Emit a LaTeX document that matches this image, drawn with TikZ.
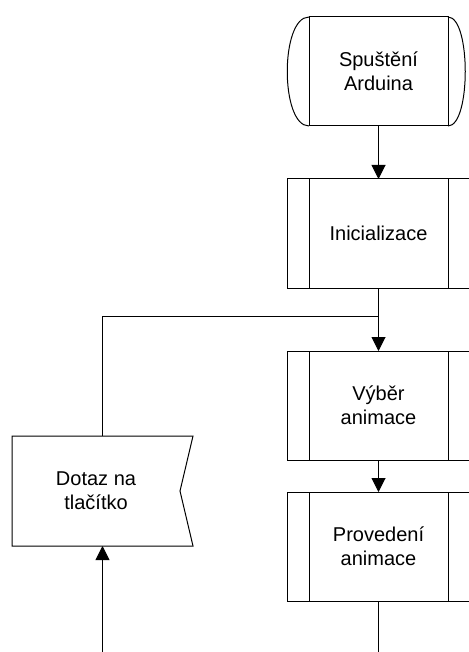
\documentclass[tikz,border=0pt]{standalone}
\usepackage{fontspec}
\setmainfont{Liberation Sans}
\usetikzlibrary{arrows.meta,
                calc,
                positioning}

\tikzset{
  txt/.style={align=center, font=\fontsize{20}{24}\selectfont},
  box/.style={txt, draw, line width=1pt, inner sep=0pt, outer sep=0pt,
              minimum width=139pt, minimum height=109pt},
  subproc/.style={box, minimum width=183pt,
    path picture={
      \draw[line width=1pt] ([xshift=22pt]path picture bounding box.north west) -- ([xshift=22pt]path picture bounding box.south west);
      \draw[line width=1pt] ([xshift=-22pt]path picture bounding box.north east) -- ([xshift=-22pt]path picture bounding box.south east);
    }},
  link/.style={line width=1pt},
  flow/.style={link, -{Triangle[length=14pt,width=14pt]}}
}

\begin{document}
\begin{tikzpicture}
\useasboundingbox (0,0) rectangle (468pt,-652pt);

\node[box] (start) at (378.5pt,-71.5pt) {Spuštění\\Arduina};
\node[subproc, below=53pt of start] (init) {Inicializace};
\node[subproc, below=63pt of init] (vyber) {Výběr\\animace};
\node[subproc, below=32pt of vyber] (proved) {Provedení\\animace};
\node[box, draw=none, minimum width=181pt, minimum height=110pt,
      label={[txt, xshift=-6.5pt]center:{Dotaz na\\tlačítko}}] (dotaz) at (102.5pt,-491pt) {};

\draw[link] (start.north west) .. controls ([xshift=-29pt]start.north west) and ([xshift=-29pt]start.south west) .. (start.south west);
\draw[link] (start.north east) .. controls ([xshift=23pt]start.north east) and ([xshift=23pt]start.south east) .. (start.south east);
\draw[link] (dotaz.north west) -- (dotaz.north east) -- ([xshift=-13pt]dotaz.east)
  -- (dotaz.south east) -- (dotaz.south west) -- cycle;

\coordinate (j) at ($(init.south)+(0,-28pt)$);
\coordinate (endL) at (dotaz.south |- 0,-652pt);
\coordinate (endR) at (proved.south |- 0,-652pt);

\draw[flow] (start) -- (init);
\draw[flow] (init) -- (vyber);
\draw[flow] (vyber) -- (proved);
\draw[link] (dotaz) |- (j);
\draw[flow] (endL) -- (dotaz);
\draw[link] (proved) -- (endR);
\end{tikzpicture}
\end{document}
